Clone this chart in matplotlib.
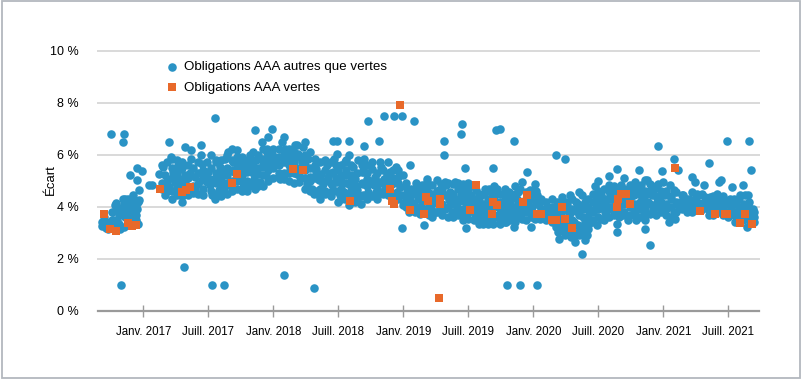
import matplotlib.pyplot as plt
from matplotlib.patches import Rectangle

# Spread data (x = decimal year, y = spread in %)
blue_2016 = [
    (2016.68, 3.26), (2016.68, 3.41), (2016.71, 3.18), (2016.73, 3.15), (2016.76, 3.22),
    (2016.77, 3.47), (2016.78, 4.05), (2016.79, 3.86), (2016.79, 4.15), (2016.81, 3.67),
    (2016.81, 3.35), (2016.82, 3.15), (2016.83, 3.92), (2016.84, 4.31), (2016.85, 4.12),
    (2016.86, 3.60), (2016.87, 3.79), (2016.88, 3.44), (2016.88, 4.28), (2016.90, 4.05),
    (2016.91, 3.67), (2016.92, 4.44), (2016.92, 3.86), (2016.93, 4.18), (2016.94, 3.47),
    (2016.95, 3.92), (2016.96, 3.35), (2016.96, 4.18), (2016.97, 4.24), (2016.74, 3.41),
    (2016.72, 3.35), (2016.78, 3.28), (2016.85, 3.22), (2016.91, 3.28), (2016.75, 6.81),
    (2016.85, 6.81), (2016.84, 6.49), (2016.83, 1.00), (2016.90, 5.21), (2016.95, 5.49),
    (2016.99, 5.38), (2016.95, 5.03), (2016.97, 4.65),
]
blue_2017 = [
    (2017.04, 4.82), (2017.07, 4.82), (2017.31, 1.69),
    (2017.12, 5.27), (2017.14, 4.69), (2017.15, 5.53), (2017.17, 5.21), (2017.18, 4.88),
    (2017.20, 6.49), (2017.21, 5.91), (2017.22, 5.82), (2017.23, 5.33), (2017.24, 4.95),
    (2017.26, 4.44), (2017.27, 5.10), (2017.28, 5.46), (2017.30, 4.18), (2017.30, 5.72),
    (2017.32, 6.29), (2017.32, 5.21), (2017.34, 4.44), (2017.36, 5.31), (2017.37, 6.17),
    (2017.37, 5.82), (2017.38, 4.54), (2017.40, 5.14), (2017.44, 6.38), (2017.44, 5.97),
    (2017.45, 5.65), (2017.45, 5.01), (2017.46, 4.44), (2017.49, 4.95), (2017.51, 5.08),
    (2017.22, 4.31), (2017.17, 4.44), (2017.20, 4.76), (2017.27, 4.69), (2017.29, 4.88),
    (2017.26, 5.53), (2017.24, 5.14), (2017.31, 5.01), (2017.33, 4.82), (2017.40, 4.69),
    (2017.42, 4.88), (2017.47, 5.21),
    (2017.55, 7.41), (2017.53, 1.00), (2017.62, 1.00), (2017.86, 6.96), (2017.99, 7.00),
    (2017.91, 6.49), (2017.96, 6.68), (2017.95, 6.23),
    (2017.49, 5.72), (2017.50, 5.33), (2017.51, 4.82), (2017.53, 4.44), (2017.54, 5.08),
    (2017.55, 4.31), (2017.56, 5.78), (2017.58, 4.63), (2017.59, 5.53), (2017.60, 5.08),
    (2017.62, 4.69), (2017.63, 5.85), (2017.64, 5.21), (2017.65, 6.10), (2017.67, 4.82),
    (2017.68, 6.23), (2017.69, 5.72), (2017.70, 5.33), (2017.72, 6.17), (2017.73, 5.01),
    (2017.73, 5.85), (2017.74, 5.59), (2017.76, 5.21), (2017.77, 4.76), (2017.78, 5.72),
    (2017.80, 5.33), (2017.81, 4.88), (2017.82, 5.97), (2017.83, 5.53), (2017.85, 5.08),
    (2017.86, 4.69), (2017.87, 5.78), (2017.88, 5.27), (2017.90, 4.95), (2017.91, 5.53),
    (2017.92, 5.85), (2017.94, 5.21), (2017.95, 6.10), (2017.96, 5.40), (2017.99, 5.97),
    (2017.97, 5.59),
]
blue_2018 = [
    (2018.08, 6.68), (2018.07, 6.49), (2018.09, 6.23), (2018.18, 6.38), (2018.24, 6.49),
    (2018.08, 1.38), (2018.31, 0.87),
    (2018.01, 5.91), (2018.02, 5.72), (2018.05, 5.05), (2018.08, 5.05), (2018.04, 6.23),
    (2018.10, 6.04), (2018.12, 5.59), (2018.14, 5.78), (2018.17, 6.36), (2018.18, 5.27),
    (2018.19, 6.04), (2018.20, 4.95), (2018.22, 5.72), (2018.23, 6.29), (2018.24, 5.40),
    (2018.26, 4.88), (2018.27, 5.85), (2018.28, 5.14), (2018.30, 4.69), (2018.31, 4.50),
    (2018.32, 5.85), (2018.33, 5.33), (2018.35, 4.44), (2018.13, 5.40), (2018.15, 5.97),
    (2018.73, 7.28), (2018.85, 7.49), (2018.93, 7.49), (2018.99, 7.49), (2018.46, 6.51),
    (2018.49, 6.51), (2018.58, 6.51), (2018.81, 6.51), (2018.70, 6.32), (2018.49, 6.04),
    (2018.99, 3.18),
    (2018.33, 5.46), (2018.35, 5.01), (2018.36, 4.56), (2018.37, 5.27), (2018.38, 4.88),
    (2018.40, 4.50), (2018.41, 5.59), (2018.42, 5.14), (2018.44, 5.72), (2018.45, 4.82),
    (2018.46, 5.33), (2018.44, 4.56), (2018.50, 5.40), (2018.50, 4.18), (2018.53, 4.95),
    (2018.54, 4.56), (2018.55, 5.72), (2018.56, 5.21), (2018.58, 5.97), (2018.58, 4.05),
    (2018.59, 4.82), (2018.60, 4.44), (2018.61, 5.53), (2018.63, 5.08), (2018.64, 4.63),
    (2018.65, 5.78), (2018.67, 4.12), (2018.68, 5.33), (2018.69, 4.88), (2018.70, 5.85),
    (2018.72, 5.08), (2018.73, 4.56), (2018.76, 5.46), (2018.77, 4.82), (2018.78, 5.14),
    (2018.79, 4.56), (2018.82, 5.72), (2018.83, 5.53), (2018.85, 5.08), (2018.86, 4.69),
    (2018.87, 5.21), (2018.88, 4.44), (2018.91, 4.88), (2018.94, 5.53), (2018.95, 4.56),
    (2018.96, 5.14), (2018.97, 4.76),
    (2018.47, 5.85), (2018.49, 4.95), (2018.51, 4.44), (2018.55, 4.31), (2018.60, 5.21),
    (2018.63, 4.18), (2018.65, 4.44), (2018.69, 4.44), (2018.70, 5.33), (2018.74, 4.95),
    (2018.81, 4.95), (2018.83, 4.56), (2018.90, 5.33), (2018.99, 4.44),
]
blue_2019 = [
    (2019.08, 7.28), (2019.16, 3.31),
    (2019.00, 5.21), (2019.01, 4.18), (2019.03, 4.69), (2019.05, 5.59), (2019.04, 3.79),
    (2019.06, 4.44), (2019.08, 4.05), (2019.09, 4.69), (2019.11, 4.31), (2019.14, 4.82),
    (2019.15, 4.44), (2019.17, 3.92), (2019.18, 5.08), (2019.19, 4.56), (2019.20, 3.67),
    (2019.00, 4.05), (2019.05, 4.18), (2019.09, 3.79), (2019.13, 3.73), (2019.11, 4.69),
    (2019.45, 7.19), (2019.44, 6.81), (2019.31, 6.51), (2019.31, 6.00), (2019.71, 6.94),
    (2019.74, 7.00), (2019.85, 6.51), (2019.47, 5.49), (2019.69, 5.49), (2019.95, 5.33),
    (2019.91, 4.95), (2019.80, 1.00), (2019.90, 1.00), (2019.48, 3.18), (2019.85, 3.22),
    (2019.98, 3.22),
    (2019.18, 4.95), (2019.21, 3.92), (2019.22, 4.82), (2019.23, 4.31), (2019.24, 3.79),
    (2019.26, 5.01), (2019.27, 4.63), (2019.29, 4.88), (2019.31, 4.44), (2019.32, 3.92),
    (2019.33, 4.82), (2019.35, 4.24), (2019.36, 4.56), (2019.37, 3.79), (2019.38, 4.88),
    (2019.40, 4.31), (2019.41, 3.99), (2019.42, 4.69), (2019.44, 4.44), (2019.45, 3.67),
    (2019.46, 4.88), (2019.47, 4.18), (2019.49, 4.56), (2019.50, 3.54), (2019.52, 4.44),
    (2019.54, 4.05), (2019.55, 3.67), (2019.56, 4.63), (2019.58, 4.24), (2019.59, 3.47),
    (2019.60, 4.44), (2019.61, 3.92), (2019.63, 4.69), (2019.64, 3.54), (2019.65, 4.31),
    (2019.67, 4.56), (2019.68, 3.41), (2019.70, 4.44), (2019.72, 4.69), (2019.73, 3.67),
    (2019.74, 4.18), (2019.76, 3.47), (2019.77, 4.44), (2019.78, 3.92), (2019.79, 4.56),
    (2019.81, 3.54), (2019.82, 4.18), (2019.83, 4.44), (2019.85, 3.86), (2019.86, 3.41),
    (2019.87, 4.31), (2019.88, 4.56), (2019.90, 3.92), (2019.91, 3.54), (2019.94, 3.79),
    (2019.96, 4.18), (2019.97, 4.63), (2019.99, 3.99),
    (2019.58, 3.35), (2019.61, 3.35), (2019.65, 3.35), (2019.69, 3.35), (2019.74, 3.35),
    (2019.79, 3.41),
    (2019.19, 4.18), (2019.28, 3.92), (2019.32, 4.95), (2019.40, 4.95), (2019.42, 3.92),
    (2019.50, 4.69), (2019.51, 4.18), (2019.60, 3.86), (2019.67, 4.05), (2019.81, 4.56),
    (2019.83, 3.67), (2019.88, 4.12), (2019.94, 4.56),
]
blue_2020 = [
    (2020.00, 3.67), (2020.01, 4.44), (2020.04, 4.05), (2020.01, 4.88), (2020.01, 3.54),
    (2020.03, 1.00),
    (2020.17, 6.00), (2020.24, 5.82), (2020.64, 5.44), (2020.58, 5.18), (2020.81, 5.40),
    (2020.70, 5.10), (2020.50, 4.97), (2020.47, 4.79), (2020.37, 2.19), (2020.20, 2.74),
    (2020.40, 2.71), (2020.32, 2.64), (2020.64, 3.03), (2020.64, 3.35), (2020.86, 3.15),
    (2020.90, 2.51),
    (2020.03, 4.44), (2020.05, 3.54), (2020.08, 3.86), (2020.10, 3.67), (2020.13, 3.79),
    (2020.14, 3.41), (2020.15, 3.92), (2020.17, 3.22), (2020.18, 4.18), (2020.19, 3.60),
    (2020.20, 3.09), (2020.22, 4.37), (2020.23, 3.86), (2020.24, 3.35), (2020.26, 4.05),
    (2020.27, 3.03), (2020.28, 4.44), (2020.29, 3.79), (2020.31, 3.41), (2020.32, 2.90),
    (2020.33, 4.18), (2020.35, 3.67), (2020.36, 3.15), (2020.37, 4.44), (2020.38, 3.92),
    (2020.40, 3.41), (2020.41, 2.90), (2020.42, 4.31), (2020.43, 3.79), (2020.45, 3.41),
    (2020.46, 4.50), (2020.47, 3.92), (2020.49, 3.28), (2020.50, 4.44), (2020.51, 4.05),
    (2020.52, 3.54), (2020.54, 4.69), (2020.55, 4.18), (2020.56, 3.67), (2020.58, 4.82),
    (2020.59, 4.44), (2020.60, 3.92), (2020.63, 4.69), (2020.65, 3.79), (2020.67, 4.82),
    (2020.68, 4.18), (2020.69, 3.67), (2020.70, 4.69), (2020.72, 4.31), (2020.73, 3.47),
    (2020.74, 4.82), (2020.76, 4.44), (2020.77, 3.92), (2020.78, 4.95), (2020.79, 3.47),
    (2020.81, 4.50), (2020.82, 4.05), (2020.83, 4.82), (2020.85, 3.67), (2020.86, 4.44),
    (2020.87, 5.01), (2020.88, 4.18),
    (2020.11, 3.54), (2020.19, 3.03), (2020.24, 2.90), (2020.28, 3.22), (2020.29, 2.85),
    (2020.35, 2.90), (2020.37, 3.22), (2020.42, 3.15), (2020.43, 3.47), (2020.27, 3.67),
    (2020.32, 3.92), (2020.40, 4.18), (2020.22, 3.47), (2020.35, 4.56), (2020.47, 4.44),
    (2020.52, 4.44), (2020.55, 3.79), (2020.60, 4.31), (2020.63, 4.18), (2020.68, 4.56),
    (2020.77, 4.44), (2020.81, 3.92), (2020.86, 3.92), (2020.83, 4.44),
    (2020.96, 6.32), (2020.99, 5.37), (2020.86, 5.01), (2020.87, 4.56), (2020.90, 4.88),
    (2020.91, 4.44), (2020.92, 3.86), (2020.93, 4.69), (2020.95, 4.18), (2020.96, 4.88),
    (2020.97, 4.37), (2020.99, 4.05), (2020.86, 4.18), (2020.90, 3.73), (2020.86, 3.47),
]
blue_2021 = [
    (2021.49, 6.51), (2021.66, 6.51), (2021.08, 5.82), (2021.35, 5.69), (2021.67, 5.40),
    (2021.11, 5.40), (2021.22, 5.14), (2021.24, 4.95), (2021.43, 4.95), (2021.44, 5.01),
    (2021.53, 4.76), (2021.61, 4.82), (2021.41, 4.50), (2021.31, 4.82),
    (2021.01, 4.44), (2021.02, 3.92), (2021.04, 3.41), (2021.05, 4.82), (2021.06, 4.31),
    (2021.08, 3.79), (2021.09, 3.54), (2021.10, 4.56), (2021.11, 4.05), (2021.13, 4.18),
    (2021.14, 3.92), (2021.17, 4.31), (2021.19, 4.05), (2021.22, 4.56), (2021.23, 3.92),
    (2021.24, 4.31), (2021.27, 4.44), (2021.28, 4.05), (2021.29, 3.86), (2021.32, 4.37),
    (2021.33, 4.12), (2021.35, 3.67), (2021.37, 4.18), (2021.38, 3.86), (2021.41, 4.05),
    (2021.43, 4.31), (2021.45, 3.86), (2021.47, 4.18), (2021.50, 3.60), (2021.52, 3.99),
    (2021.54, 3.67), (2021.55, 3.41), (2021.58, 3.86), (2021.60, 3.67), (2021.61, 3.47),
    (2021.63, 4.44), (2021.64, 3.22), (2021.65, 4.05), (2021.67, 3.67), (2021.68, 3.47),
    (2021.69, 3.92), (2021.70, 3.41),
    (2021.00, 4.95), (2021.08, 4.63), (2021.15, 4.44), (2021.18, 3.79), (2021.31, 4.18),
    (2021.36, 4.37), (2021.40, 4.31), (2021.46, 4.05), (2021.51, 4.31), (2021.56, 4.18),
    (2021.59, 4.44), (2021.63, 3.92), (2021.65, 4.44), (2021.68, 3.86), (2021.14, 4.44),
    (2021.20, 4.31),
]

# dense parts of the cloud, read column by column: (date, [spreads])
dense_2016_2017 = [
    (2016.70, [3.3, 3.6]), (2016.76, [3.5, 3.8]), (2016.80, [3.5, 4.0]),
    (2016.86, [3.9, 4.3]), (2016.90, [3.5, 3.8]), (2016.94, [3.7, 4.0]),
    (2017.14, [4.9, 5.6]), (2017.18, [4.6, 5.0, 5.7]), (2017.22, [4.6, 5.1, 5.5]),
    (2017.26, [4.8, 5.3, 5.8]), (2017.30, [4.4, 4.9, 5.5]), (2017.34, [4.6, 5.1, 5.6]),
    (2017.38, [4.8, 5.5]), (2017.42, [4.5, 5.3, 5.7]), (2017.46, [4.7, 5.4]),
    (2017.52, [4.6, 5.0, 5.5, 6.0]), (2017.56, [4.5, 4.9, 5.3, 5.7]),
    (2017.60, [4.4, 4.8, 5.3, 5.8]), (2017.64, [4.5, 4.9, 5.5, 6.0]),
    (2017.68, [4.6, 5.0, 5.4, 5.8]), (2017.72, [4.7, 5.0, 5.5, 5.9]),
    (2017.76, [4.6, 5.0, 5.4, 5.9]), (2017.80, [4.6, 5.0, 5.5, 5.8]),
    (2017.84, [4.8, 5.3, 5.7, 6.1]), (2017.88, [4.8, 5.5, 6.0]),
    (2017.92, [4.8, 5.2, 5.7, 6.2]), (2017.96, [5.0, 5.7, 6.0]),
]
dense_2018 = [
    (2018.00, [5.1, 5.5, 5.8, 6.2]), (2018.04, [5.3, 5.6, 5.9]), (2018.08, [5.3, 5.7, 6.0]),
    (2018.12, [5.0, 5.3, 5.8, 6.2]), (2018.16, [4.9, 5.3, 5.7, 6.1]), (2018.20, [5.2, 5.5, 5.9]),
    (2018.24, [4.7, 5.1, 5.6, 6.0]), (2018.28, [4.6, 5.0, 5.5, 6.1]), (2018.32, [4.6, 5.1, 5.6]),
    (2018.36, [4.3, 4.7, 5.2, 5.7]), (2018.40, [4.6, 5.0, 5.4, 5.8]), (2018.44, [4.4, 4.9, 5.3]),
    (2018.48, [4.6, 5.1, 5.6]), (2018.52, [4.3, 4.7, 5.2, 5.6]), (2018.56, [4.4, 4.9, 5.4, 5.8]),
    (2018.60, [4.2, 4.6, 5.0, 5.6]), (2018.64, [4.3, 4.8, 5.3]), (2018.68, [4.4, 4.9, 5.6]),
    (2018.72, [4.3, 4.8, 5.3, 5.6]), (2018.76, [4.4, 5.0, 5.7]), (2018.80, [4.3, 4.8, 5.3]),
    (2018.84, [4.5, 4.9, 5.4]), (2018.88, [4.6, 5.0, 5.7]), (2018.92, [4.4, 5.1, 5.4]),
    (2018.96, [4.3, 4.9, 5.4]),
]
dense_2019 = [
    (2019.02, [4.0, 4.4, 4.9]), (2019.06, [3.9, 4.2, 4.7]), (2019.10, [4.0, 4.5, 4.9]),
    (2019.14, [3.9, 4.2, 4.6]), (2019.18, [3.8, 4.3, 4.8]), (2019.22, [3.6, 4.1, 4.5]),
    (2019.26, [3.8, 4.2, 4.6]), (2019.30, [3.7, 4.1, 4.6]), (2019.34, [3.6, 4.0, 4.4, 4.9]),
    (2019.38, [3.6, 4.1, 4.5]), (2019.42, [3.7, 4.2, 4.9]), (2019.46, [3.5, 3.9, 4.3, 4.7]),
    (2019.50, [3.8, 4.3, 4.9]), (2019.54, [3.5, 3.8, 4.3, 4.8]), (2019.58, [3.6, 4.0, 4.5]),
    (2019.62, [3.4, 3.7, 4.1, 4.5]), (2019.66, [3.5, 3.9, 4.7]), (2019.70, [3.6, 4.0, 4.3, 4.8]),
    (2019.74, [3.5, 3.9, 4.5]), (2019.78, [3.4, 3.7, 4.2, 4.7]), (2019.82, [3.5, 3.9, 4.3]),
    (2019.86, [3.6, 4.0, 4.5, 4.8]), (2019.90, [3.7, 4.2, 4.7]), (2019.94, [3.5, 4.0, 4.3]),
    (2019.98, [3.6, 3.9, 4.3, 4.6]),
]
dense_2020 = [
    (2020.02, [3.7, 4.2, 4.6]), (2020.06, [3.6, 3.9, 4.3]), (2020.10, [3.5, 3.9, 4.2]),
    (2020.14, [3.6, 4.0, 4.3]), (2020.18, [3.3, 3.8, 4.0]), (2020.22, [3.2, 3.6, 4.1]),
    (2020.26, [3.2, 3.5, 3.9, 4.2]), (2020.30, [3.1, 3.5, 3.9, 4.3]), (2020.34, [3.0, 3.3, 3.8, 4.1]),
    (2020.38, [3.0, 3.6, 4.0]), (2020.42, [3.3, 3.6, 4.0]), (2020.46, [3.5, 3.8, 4.2]),
    (2020.50, [3.6, 3.9, 4.2, 4.6]), (2020.54, [3.5, 3.9, 4.3]), (2020.58, [3.6, 4.0, 4.3, 4.6]),
    (2020.62, [3.7, 4.0, 4.4, 4.8]), (2020.66, [3.6, 4.0, 4.3, 4.6]), (2020.70, [3.8, 4.1, 4.4]),
    (2020.74, [3.7, 4.0, 4.3, 4.6]), (2020.78, [3.7, 4.1, 4.7]), (2020.82, [3.6, 4.2, 4.6]),
    (2020.86, [3.8, 4.6]), (2020.90, [4.1, 4.6]), (2020.94, [3.7, 4.0, 4.4, 4.8]),
    (2020.98, [3.8, 4.2, 4.6]),
]
dense_2021 = [
    (2021.02, [3.7, 4.1, 4.6]), (2021.06, [3.6, 4.0, 4.4]), (2021.10, [3.8, 4.2]),
    (2021.14, [4.1]), (2021.18, [3.9, 4.2]), (2021.22, [3.8, 4.2]), (2021.26, [3.9, 4.2, 4.5]),
    (2021.30, [3.9, 4.1, 4.5]), (2021.34, [3.9, 4.3]), (2021.38, [3.7, 4.1, 4.4]),
    (2021.42, [3.8, 4.2]), (2021.46, [3.7, 3.9, 4.4]), (2021.50, [3.8, 4.1]),
    (2021.54, [3.8, 4.1, 4.3]), (2021.58, [3.6, 4.0, 4.3]), (2021.62, [3.6, 4.1]),
    (2021.66, [3.5, 3.8, 4.2]), (2021.70, [3.6, 3.8]),
]

orange_2016 = [(2016.70, 3.71), (2016.74, 3.13), (2016.79, 3.05), (2016.88, 3.38),
               (2016.91, 3.26), (2016.94, 3.31)]
orange_2017 = [(2017.13, 4.69), (2017.30, 4.56), (2017.33, 4.64), (2017.36, 4.76),
               (2017.72, 5.27), (2017.68, 4.92)]
orange_2018 = [(2018.15, 5.46), (2018.23, 5.41), (2018.59, 4.21), (2018.90, 4.69),
               (2018.91, 4.21), (2018.93, 4.12), (2018.97, 7.92)]
orange_2019 = [(2019.05, 3.88), (2019.16, 3.73), (2019.17, 4.37), (2019.19, 4.21),
               (2019.27, 0.49), (2019.28, 4.31), (2019.28, 4.12), (2019.51, 3.86),
               (2019.56, 4.82), (2019.68, 3.73), (2019.69, 4.18), (2019.72, 4.05),
               (2019.92, 4.18), (2019.95, 4.44)]
orange_2020 = [(2020.03, 3.73), (2020.06, 3.73), (2020.14, 3.47), (2020.17, 3.47),
               (2020.22, 3.99), (2020.24, 3.54), (2020.30, 3.18), (2020.64, 3.99),
               (2020.65, 4.28), (2020.67, 4.50), (2020.71, 4.50), (2020.74, 4.09)]
orange_2021 = [(2021.09, 5.50), (2021.28, 3.83), (2021.40, 3.71), (2021.47, 3.73),
               (2021.49, 3.73), (2021.59, 3.38), (2021.63, 3.73), (2021.68, 3.35)]

tick_pos = [2017.0, 2017.5, 2018.0, 2018.5, 2019.0, 2019.5, 2020.0, 2020.5, 2021.0, 2021.5]
tick_labels = ["Janv. 2017", "Juill. 2017", "Janv. 2018", "Juill. 2018", "Janv. 2019",
               "Juill. 2019", "Janv. 2020", "Juill. 2020", "Janv. 2021", "Juill. 2021"]
y_ticks = [0, 2, 4, 6, 8, 10]
y_labels = ["0 %", "2 %", "4 %", "6 %", "8 %", "10 %"]

blue = blue_2016 + blue_2017 + blue_2018 + blue_2019 + blue_2020 + blue_2021
for col in dense_2016_2017 + dense_2018 + dense_2019 + dense_2020 + dense_2021:
    for v in col[1]:
        blue.append((col[0], v))
orange = orange_2016 + orange_2017 + orange_2018 + orange_2019 + orange_2020 + orange_2021

plt.rcParams['font.family'] = ['Liberation Sans', 'DejaVu Sans']

fig = plt.figure(figsize=(8.02, 3.8), dpi=100)
W, H = 802, 380
ax = fig.add_axes([98 / W, 69.3 / H, 661 / W, 260 / H])

ax.scatter([p[0] for p in blue], [p[1] for p in blue], s=38, marker='o',
           color='#2a93c5', linewidths=0, zorder=3, label="Obligations AAA autres que vertes")
ax.scatter([p[0] for p in orange], [p[1] for p in orange], s=28, marker='s',
           color='#e8692a', linewidths=0, zorder=4, label="Obligations AAA vertes")

ax.set_xlim(2016.651, 2021.735)
ax.set_ylim(0, 10)
ax.set_xticks(tick_pos)
ax.set_xticklabels(tick_labels, fontsize=8.3)
ax.set_yticks(y_ticks)
ax.set_yticklabels(y_labels, fontsize=9)

for s in ['top', 'left', 'right']:
    ax.spines[s].set_visible(False)
ax.spines['bottom'].set_color('#9a9a9a')
ax.spines['bottom'].set_linewidth(1.6)
ax.spines['bottom'].set_zorder(5)

ax.yaxis.grid(True, color='#d9d9d9', linewidth=1.4)
ax.set_axisbelow(True)
ax.tick_params(axis='y', length=0, pad=14)
ax.tick_params(axis='x', direction='inout', length=8, width=1, color='#9a9a9a', pad=7)
for gl in ax.yaxis.get_gridlines():
    gl.set_clip_on(False)

fig.text(51 / W, 1 - 180 / H, "Écart", rotation=90, ha='center', va='center', fontsize=9.5)

ax.legend(loc='upper left', bbox_to_anchor=(165 / W, 1 - 61 / H), bbox_transform=fig.transFigure,
          frameon=False, fontsize=9.6, handlelength=1.0, handletextpad=0.4,
          borderpad=0, borderaxespad=0, labelspacing=0.6)

fig.patches.append(Rectangle((1.5 / W, 2.3 / H), 798.5 / W, 376.5 / H, transform=fig.transFigure,
                             fill=False, edgecolor='#b3b8be', linewidth=1.3))

plt.savefig("out.png", dpi=100)
